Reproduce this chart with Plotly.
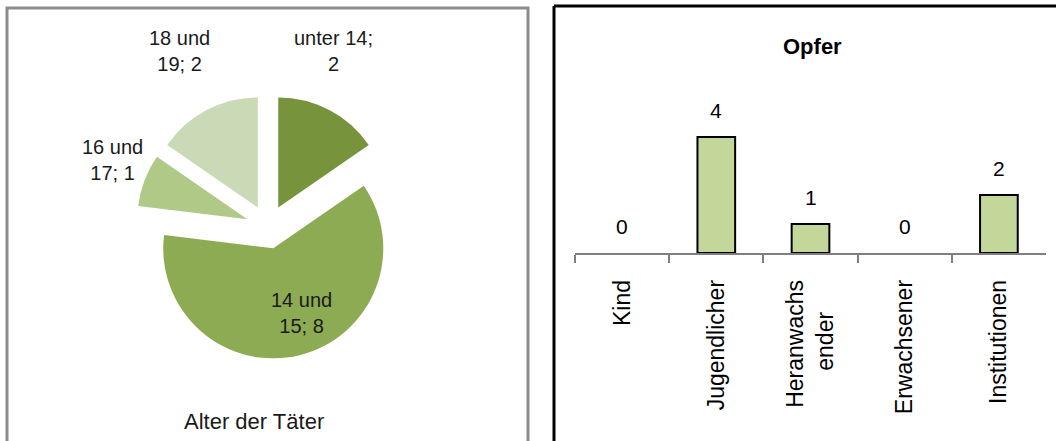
import plotly.graph_objects as go

# ---- data ----
age_groups = ["unter 14", "14 und 15", "16 und 17", "18 und 19"]
age_counts = [2, 8, 1, 2]
age_colors = ["#77933C", "#8DAB52", "#B0C986", "#CAD9B6"]

victim_categories = ["Kind", "Jugendlicher", "Heranwachsender", "Erwachsener", "Institutionen"]
victim_tick_labels = ["Kind", "Jugendlicher", "Heranwachs<br>ender\u00a0\u00a0\u00a0\u00a0\u00a0",
                      "Erwachsener", "Institutionen"]
victim_counts = [0, 4, 1, 0, 2]

# label placement for the pie slices (pixel centres in the 1056x441 frame)
pie_label_pos = [(333, 51), (301, 313), (112, 160), (179, 51)]

W, H = 1056, 441


def px_x(v):
    return v / W


def px_y(v):
    return 1 - v / H


def pie_label(name, val):
    if " und " in name:
        a, b = name.split(" und ")
        return f"{a} und<br>{b}; {val}"
    return f"{name};<br>{val}"


pie_text = [pie_label(n, v) for n, v in zip(age_groups, age_counts)]

SANS = "Liberation Sans, Arial, sans-serif"

fig = go.Figure()

fig.add_trace(go.Pie(
    labels=age_groups,
    values=age_counts,
    textinfo="none",
    sort=False,
    direction="clockwise",
    rotation=0,
    pull=[0.2, 0.2, 0.2, 0.2],
    marker=dict(colors=age_colors, line=dict(width=0)),
    domain=dict(x=[px_x(136), px_x(400)], y=[px_y(359), px_y(95)]),
    showlegend=False,
    hoverinfo="label+value",
))

fig.add_trace(go.Bar(
    x=victim_categories,
    y=victim_counts,
    marker=dict(color="#C4D79B",
                line=dict(color="#000000",
                          width=[0 if v == 0 else 2 for v in victim_counts])),
    xaxis="x",
    yaxis="y",
    showlegend=False,
))

annotations = []
for txt, (lx, ly) in zip(pie_text, pie_label_pos):
    annotations.append(dict(
        x=px_x(lx), y=px_y(ly), xref="paper", yref="paper",
        text=txt, showarrow=False, xanchor="center", yanchor="middle",
        align="center",
        font=dict(family=SANS, size=20, color="#1a1a1a"),
    ))

for cat, val in zip(victim_categories, victim_counts):
    annotations.append(dict(
        x=cat, y=val, xref="x", yref="y", text=str(val), showarrow=False,
        yanchor="bottom", yshift=13,
        font=dict(family=SANS, size=21, color="#000000"),
    ))

annotations.append(dict(
    x=px_x(254), y=px_y(421), xref="paper", yref="paper",
    text="Alter der Täter", showarrow=False, xanchor="center", yanchor="middle",
    font=dict(family=SANS, size=22, color="#1a1a1a"),
))
annotations.append(dict(
    x=px_x(812), y=px_y(47), xref="paper", yref="paper",
    text="<b>Opfer</b>", showarrow=False, xanchor="center", yanchor="middle",
    font=dict(family=SANS, size=22, color="#000000"),
))

shapes = [
    dict(type="rect", xref="paper", yref="paper",
         x0=px_x(7), x1=px_x(528), y0=-0.05, y1=px_y(8),
         line=dict(color="#8C8C8C", width=3), fillcolor="rgba(0,0,0,0)"),
    dict(type="line", xref="paper", yref="paper",
         x0=px_x(554), x1=1.02, y0=px_y(6), y1=px_y(6),
         line=dict(color="#000000", width=3)),
    dict(type="line", xref="paper", yref="paper",
         x0=px_x(554), x1=px_x(554), y0=-0.05, y1=px_y(6),
         line=dict(color="#000000", width=3)),
]

fig.update_layout(
    width=W, height=H,
    margin=dict(l=0, r=0, t=0, b=0),
    paper_bgcolor="white",
    plot_bgcolor="white",
    bargap=0.6,
    xaxis=dict(
        domain=[px_x(575), px_x(1046)],
        anchor="y",
        tickmode="array",
        tickvals=victim_categories,
        ticktext=victim_tick_labels,
        tickangle=-90,
        tickson="boundaries",
        ticks="outside",
        ticklen=8,
        tickcolor="#7F7F7F",
        tickwidth=1.5,
        showline=True,
        linecolor="#7F7F7F",
        linewidth=1.5,
        showgrid=False,
        zeroline=False,
        ticklabelstandoff=16,
        tickfont=dict(family=SANS, size=23, color="#000000"),
    ),
    yaxis=dict(
        domain=[px_y(253), px_y(108)],
        anchor="x",
        range=[0, 5],
        visible=False,
        showgrid=False,
        zeroline=False,
    ),
    annotations=annotations,
    shapes=shapes,
)

fig.write_html(
    "out.html",
    config={"displayModeBar": False},
    post_script="document.body.style.margin='0';document.body.style.overflow='hidden';",
)
